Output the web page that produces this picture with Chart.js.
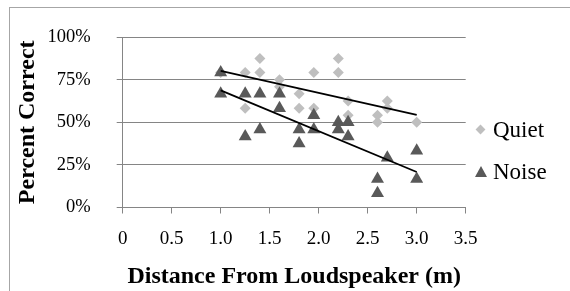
<!DOCTYPE html>
<html lang="en">
<head>
    <meta charset="UTF-8">
    <title>Percent Correct vs Distance</title>
    <script src="https://cdn.jsdelivr.net/npm/chart.js"></script>
    <style>
        body {
            margin: 0;
            background: #fff;
            font-family: "Liberation Serif", "Times New Roman", serif;
        }
        #wrap {
            position: relative;
            width: 570px;
            height: 291px;
            overflow: hidden;
        }
        #frame {
            position: absolute;
            left: 9px;
            top: 7px;
            width: 600px;
            height: 320px;
            border-left: 1px solid #a6a6a6;
            border-top: 1px solid #a6a6a6;
        }
        canvas {
            position: absolute;
            left: 0;
            top: 0;
        }
        .leg {
            position: absolute;
            left: 493px;
            font-size: 23px;
            line-height: 23px;
            color: #000;
        }
        .mark {
            position: absolute;
        }
        #mQuiet {
            left: 477px;
            width: 7px;
            height: 7px;
            background: #bfbfbf;
            transform: rotate(45deg);
        }
        #mNoise {
            left: 475px;
            width: 0;
            height: 0;
            border-left: 6px solid transparent;
            border-right: 6px solid transparent;
            border-bottom: 11px solid #595959;
        }
    </style>
</head>
<body>
<div id="wrap">
    <div id="frame"></div>
    <canvas id="chartCanvas" width="570" height="291"></canvas>
    <div class="mark" id="mQuiet" style="top:126px"></div>
    <div class="leg" style="top:118px">Quiet</div>
    <div class="mark" id="mNoise" style="top:166px"></div>
    <div class="leg" style="top:160px">Noise</div>
</div>

<script>
    // ค่าที่อ่านจากกราฟ (ระยะทาง m, เปอร์เซ็นต์ถูก)
    const quietX = [1, 1.25, 1.25, 1.4, 1.4, 1.6, 1.6, 1.8, 1.8, 1.95, 1.95, 2.2, 2.2, 2.3, 2.3, 2.6, 2.6, 2.7, 2.7, 3];
    const quietY = [79.2, 79.2, 58.3, 87.5, 79.2, 75, 70.8, 66.7, 58.3, 79.2, 58.3, 87.5, 79.2, 62.5, 54.2, 54.2, 50, 62.5, 58.3, 50];

    const noiseX = [1, 1, 1.25, 1.25, 1.4, 1.4, 1.6, 1.6, 1.8, 1.8, 1.95, 1.95, 2.2, 2.2, 2.3, 2.3, 2.6, 2.6, 2.7, 3, 3];
    const noiseY = [79.2, 66.7, 66.7, 41.7, 66.7, 45.8, 66.7, 58.3, 45.8, 37.5, 54.2, 45.8, 50, 45.8, 50, 41.7, 16.7, 8.3, 29.2, 33.3, 16.7];

    const xTicks = [0, 0.5, 1, 1.5, 2, 2.5, 3, 3.5];
    const yTicks = [0, 25, 50, 75, 100];

    // เส้นแนวโน้มเชิงเส้น (least squares) จาก x ต่ำสุดถึงสูงสุด
    function trendLine(xs, ys) {
        const n = xs.length;
        const mx = xs.reduce((a, b) => a + b, 0) / n;
        const my = ys.reduce((a, b) => a + b, 0) / n;
        let sxy = 0, sxx = 0;
        for (let i = 0; i < n; i++) {
            sxy += (xs[i] - mx) * (ys[i] - my);
            sxx += (xs[i] - mx) * (xs[i] - mx);
        }
        const b = sxy / sxx;
        const x0 = Math.min(...xs), x1 = Math.max(...xs);
        return [{ x: x0, y: my + b * (x0 - mx) }, { x: x1, y: my + b * (x1 - mx) }];
    }

    const toPoints = (xs, ys) => xs.map((x, i) => ({ x, y: ys[i] }));

    const gridColor = "#858585";
    const fontFamily = "'Liberation Serif', 'Times New Roman', serif";

    new Chart(document.getElementById("chartCanvas"), {
        type: "scatter",
        data: {
            datasets: [
                {
                    label: "Quiet trend",
                    type: "line",
                    data: trendLine(quietX, quietY),
                    borderColor: "#000",
                    borderWidth: 1.8,
                    pointRadius: 0,
                    order: 0,
                },
                {
                    label: "Noise trend",
                    type: "line",
                    data: trendLine(noiseX, noiseY),
                    borderColor: "#000",
                    borderWidth: 1.8,
                    pointRadius: 0,
                    order: 0,
                },
                {
                    label: "Quiet",
                    data: toPoints(quietX, quietY),
                    pointStyle: "rectRot",
                    pointRadius: 5.5,
                    backgroundColor: "#bfbfbf",
                    borderColor: "#bfbfbf",
                    borderWidth: 0,
                    order: 2,
                },
                {
                    label: "Noise",
                    data: toPoints(noiseX, noiseY),
                    pointStyle: "triangle",
                    pointRadius: 7.5,
                    backgroundColor: "#595959",
                    borderColor: "#595959",
                    borderWidth: 0,
                    order: 1,
                },
            ],
        },
        options: {
            responsive: false,
            animation: false,
            layout: { padding: { left: 10, top: 31, right: 104.3, bottom: 0 } },
            plugins: {
                legend: { display: false },
                tooltip: { enabled: false },
            },
            scales: {
                x: {
                    type: "linear",
                    min: 0,
                    max: 3.5,
                    afterBuildTicks: s => { s.ticks = xTicks.map(v => ({ value: v })); },
                    afterFit: s => { s.height = 83.5; },
                    grid: { drawOnChartArea: false, tickLength: 6, color: gridColor, lineWidth: 1 },
                    border: { color: gridColor, width: 1 },
                    ticks: { color: "#000", padding: 14, font: { family: fontFamily, size: 19 } },
                    title: {
                        display: true,
                        text: "Distance From Loudspeaker (m)",
                        color: "#000",
                        padding: { top: 0, bottom: 0 },
                        font: { family: fontFamily, size: 24, weight: "bold" },
                    },
                },
                y: {
                    type: "linear",
                    min: 0,
                    max: 100,
                    afterBuildTicks: s => { s.ticks = yTicks.map(v => ({ value: v })); },
                    afterFit: s => { s.width = 112.7; },
                    grid: { tickLength: 6, color: gridColor, lineWidth: 1 },
                    border: { color: gridColor, width: 1 },
                    ticks: {
                        color: "#000",
                        padding: 26,
                        font: { family: fontFamily, size: 18.5 },
                        callback: v => v + "%",
                    },
                    title: {
                        display: true,
                        text: "Percent Correct",
                        color: "#000",
                        padding: { top: 3, bottom: 0 },
                        font: { family: fontFamily, size: 24, weight: "bold" },
                    },
                },
            },
        },
    });
</script>
</body>
</html>
